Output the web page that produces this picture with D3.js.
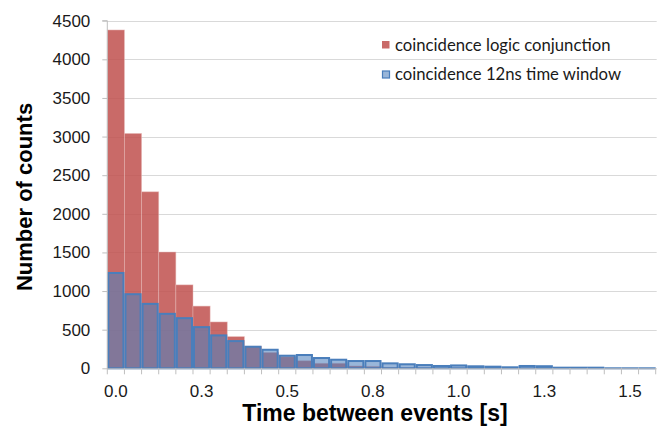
<!DOCTYPE html>
<html><head><meta charset="utf-8">
<script src="https://cdn.jsdelivr.net/npm/d3@7"></script>
<style>body{margin:0;background:#fff}svg{display:block}</style>
</head><body><svg id="chart" width="667" height="432"></svg>
<script>
// Bin starts (s)
const categories = ["0.00","0.05","0.10","0.15","0.20","0.25","0.30","0.35","0.40","0.45",
  "0.50","0.55","0.60","0.65","0.70","0.75","0.80","0.85","0.90","0.95",
  "1.00","1.05","1.10","1.15","1.20","1.25","1.30","1.35","1.40","1.45","1.50","1.55"];
const logicConjunction = [4380,3040,2285,1505,1080,805,600,410,285,205,
  150,98,65,65,30,25,12,8,5,4,3,2,2,1,1,1,1,0,0,0,0,0];
const timeWindow12ns = [1247,972,847,718,662,546,439,365,292,253,
  176,185,146,124,107,107,77,65,55,43,50,39,34,26,43,40,21,21,21,13,13,13];
const xTickCategories = ["0.00","0.25","0.50","0.75","1.00","1.25","1.50"];
const xTickLabels = ["0.0","0.3","0.5","0.8","1.0","1.3","1.5"];
const yTicks = [0,500,1000,1500,2000,2500,3000,3500,4000,4500];
const seriesNames = ["coincidence logic conjunction","coincidence 12ns time window"];

const svg = d3.select("#chart");
const pL = 107.3, pR = 655.7, pT = 20.7, pB = 368.3;

const x = d3.scaleBand().domain(categories).range([pL, pR]).padding(0);
const y = d3.scaleLinear().domain([0, 4500]).range([pB, pT]);

// gridlines
svg.append("g").selectAll("line").data(yTicks.filter(d => d > 0)).join("line")
  .attr("x1", pL).attr("x2", pR + 1)
  .attr("y1", d => Math.round(y(d)) + 0.5).attr("y2", d => Math.round(y(d)) + 0.5)
  .attr("stroke", "#d9d9d9").attr("stroke-width", 1);

// red bars
svg.append("g").selectAll("rect").data(categories).join("rect")
  .attr("x", d => x(d)).attr("width", x.bandwidth())
  .attr("y", (d, i) => y(logicConjunction[i]))
  .attr("height", (d, i) => y(0) - y(logicConjunction[i]))
  .attr("fill", "#c0504d").attr("fill-opacity", 0.85)
  .attr("stroke", "#e6b9b8").attr("stroke-opacity", 0.6).attr("stroke-width", 0.8);

// blue bars
svg.append("g").selectAll("rect").data(categories).join("rect")
  .attr("x", d => x(d) + 1).attr("width", x.bandwidth() - 2)
  .attr("y", (d, i) => y(timeWindow12ns[i]) + 1)
  .attr("height", (d, i) => Math.max(0, y(0) - y(timeWindow12ns[i]) - 1))
  .attr("fill", "#4f81bd").attr("fill-opacity", 0.58)
  .attr("stroke", "#4a7ebb").attr("stroke-width", 2);

// y axis
const yAxis = d3.axisLeft(y).tickValues(yTicks).tickSize(5).tickPadding(12).tickFormat(d3.format("d"));
const gy = svg.append("g").attr("transform", `translate(${pL},0)`).call(yAxis);
gy.select(".domain").attr("stroke", "#bfbfbf").attr("d", `M-5,${y(4500)}H0V${y(0)}`);
gy.selectAll(".tick line").attr("stroke", "#bfbfbf");
gy.selectAll(".tick text").attr("font-family", "Liberation Sans, Arial, sans-serif")
  .attr("font-size", 17).attr("fill", "#1a1a1a");

// x axis (category boundaries ticks)
const gx = svg.append("g");
gx.append("line").attr("x1", pL).attr("x2", pR + 1).attr("y1", pB + 0.5).attr("y2", pB + 0.5)
  .attr("stroke", "#bfbfbf");
gx.selectAll("line.tk").data(categories.concat(["end"])).join("line").attr("class", "tk")
  .attr("x1", d => d === "end" ? pR : x(d)).attr("x2", d => d === "end" ? pR : x(d))
  .attr("y1", pB).attr("y2", pB + 6).attr("stroke", "#bfbfbf");
gx.selectAll("text").data(xTickCategories).join("text")
  .attr("x", d => x(d) + x.bandwidth() / 2).attr("y", 397)
  .attr("text-anchor", "middle")
  .attr("font-family", "Liberation Sans, Arial, sans-serif").attr("font-size", 17).attr("fill", "#1a1a1a")
  .text((d, i) => xTickLabels[i]);

// axis titles
svg.append("text").attr("x", 375).attr("y", 421).attr("text-anchor", "middle")
  .attr("font-family", "Liberation Sans, Arial, sans-serif").attr("font-weight", "bold").attr("font-size", 23)
  .attr("fill", "#000").text("Time between events [s]");
svg.append("text").attr("transform", "translate(32,197) rotate(-90)").attr("text-anchor", "middle")
  .attr("font-family", "Liberation Sans, Arial, sans-serif").attr("font-weight", "bold").attr("font-size", 22)
  .attr("fill", "#000").text("Number of counts");

// legend
const lg = svg.append("g");
lg.append("rect").attr("x", 382).attr("y", 41).attr("width", 7.5).attr("height", 7.5)
  .attr("fill", "#c0504d").attr("fill-opacity", 0.85);
lg.append("rect").attr("x", 382.5).attr("y", 71).attr("width", 7).attr("height", 7)
  .attr("fill", "#4f81bd").attr("fill-opacity", 0.58).attr("stroke", "#4a7ebb").attr("stroke-width", 1.2);
lg.selectAll("text").data(seriesNames).join("text")
  .attr("x", 395).attr("y", (d, i) => 50.5 + i * 29.5)
  .attr("font-family", "Lato, 'Open Sans', sans-serif").attr("font-size", 16.7).attr("fill", "#1a1a1a")
  .text(d => d);
</script></body></html>
